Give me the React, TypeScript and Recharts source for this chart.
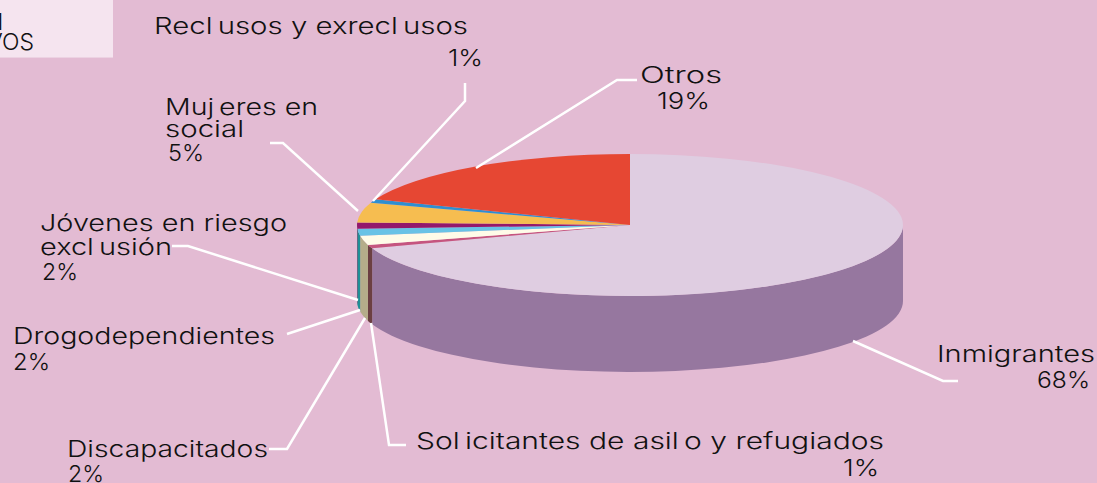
import { PieChart, Pie } from "recharts"

const categories = [
  "Inmigrantes",
  "Solicitantes de asilo y refugiados",
  "Discapacitados",
  "Drogodependientes",
  "Jóvenes en riesgo exclusión",
  "Mujeres en social",
  "Reclusos y exreclusos",
  "Otros",
]
// slice shares as drawn in the picture, the printed percentages are kept apart
const shares = [69.6, 0.8, 2.1, 1.6, 1.4, 4.5, 0.8, 19.1]
const percentLabels = ["68%", "1%", "2%", "2%", "2%", "5%", "1%", "19%"]
const topColors = ["#dfcde1", "#c5557f", "#fffbe8", "#69c2e6", "#93186c", "#f6bd50", "#2f8fd0", "#e64733"]
const wallColors = ["#96779f", "#6b3f42", "#b5ad8a", "#1f8f96", "#5e1046", "#a07a30", "#1e5c86", "#952d20"]

const data = categories.map((name, i) => ({
  name,
  value: shares[i],
  fill: topColors[i],
  wall: wallColors[i],
}))

const RX = 273
const RY = 71
const DEPTH = 76
const RAD = Math.PI / 180
const FONT = "Inter"

// [text, x, baseline, width]
type Line = [string, number, number, number]

const labelLayout: { lines: Line[]; leader: string }[] = [
  {
    lines: [["Inmigrantes", 937, 362, 158], [percentLabels[0], 1037, 388, 53]],
    leader: "853,341 943,381 958,381",
  },
  {
    lines: [["Solicitantes de asilo y refugiados", 416, 449, 468], [percentLabels[1], 843, 476, 36]],
    leader: "371,323 389,445 406,445",
  },
  {
    lines: [["Discapacitados", 67, 457, 201], [percentLabels[2], 68, 482, 36]],
    leader: "365,318 287,449 269,449",
  },
  {
    lines: [["Drogodependientes", 13, 344, 262], [percentLabels[3], 13, 370, 37]],
    leader: "360,310 287,334",
  },
  {
    lines: [["Jóvenes en riesgo", 40, 231, 247], ["exclusión", 40, 255, 132], [percentLabels[4], 42, 280, 36]],
    leader: "358,300 188,246 172,246",
  },
  {
    lines: [["Mujeres en", 165, 115, 153], ["social", 165, 137, 79], [percentLabels[5], 168, 161, 36]],
    leader: "358,211 283,143 270,143",
  },
  {
    lines: [["Reclusos y exreclusos", 154, 34, 314], [percentLabels[6], 448, 66, 35]],
    leader: "373,201 465,101 465,83",
  },
  {
    lines: [["Otros", 640, 83, 82], [percentLabels[7], 657, 109, 53]],
    leader: "476,168 617,80 637,80",
  },
]

function Slice3D(props: any) {
  const { cx, cy, startAngle, endAngle, fill, payload } = props
  const px = (a: number) => cx + RX * Math.cos(a * RAD)
  const py = (a: number) => cy - RY * Math.sin(a * RAD)
  const large = startAngle - endAngle > 180 ? 1 : 0
  const top = `M${cx},${cy}L${px(startAngle)},${py(startAngle)}A${RX},${RY} 0 ${large} 1 ${px(endAngle)},${py(endAngle)}Z`

  // only the front half of the rim shows a wall
  const a0 = Math.min(startAngle, 0)
  const a1 = Math.max(endAngle, -180)
  const wall =
    a0 > a1
      ? `M${px(a0)},${py(a0)}A${RX},${RY} 0 0 1 ${px(a1)},${py(a1)}L${px(a1)},${py(a1) + DEPTH}A${RX},${RY} 0 0 0 ${px(a0)},${py(a0) + DEPTH}Z`
      : null

  return (
    <g>
      {wall && <path d={wall} fill={payload.wall ?? props.wall} stroke="none" />}
      <path d={top} fill={fill} stroke="none" />
    </g>
  )
}

function renderLabel({ index }: any) {
  const { lines, leader } = labelLayout[index]
  return (
    <g key={index}>
      <polyline points={leader} fill="none" stroke="#ffffff" strokeWidth={2.5} />
      {lines.map(([text, x, y, width]) => (
        <text
          key={text}
          x={x}
          y={y}
          fill="#111111"
          stroke="none"
          fontFamily={FONT}
          fontWeight={300}
          fontSize={23}
          textAnchor="start"
          textLength={width}
          lengthAdjust="spacingAndGlyphs"
        >
          {/* the source leaves a small gap after l and j */}
          {text.split(/(?<=[lj])/).map((part, i) => (
            <tspan key={i} dx={i === 0 ? 0 : 4}>
              {part}
            </tspan>
          ))}
        </text>
      ))}
    </g>
  )
}

export default function App() {
  return (
    <div
      style={{
        position: "absolute",
        left: 0,
        top: 0,
        width: 1097,
        height: 483,
        overflow: "hidden",
        background: "#e3bbd3",
      }}
    >
      <PieChart width={1097} height={483} margin={{ top: 0, right: 0, bottom: 0, left: 0 }}>
        <Pie
          data={data}
          dataKey="value"
          nameKey="name"
          cx={630}
          cy={225}
          outerRadius={RX}
          startAngle={90}
          endAngle={-270}
          stroke="none"
          shape={Slice3D}
          label={renderLabel}
          labelLine={false}
          isAnimationActive={false}
        />
      </PieChart>
      <div
        style={{
          position: "absolute",
          left: 0,
          top: 0,
          width: 113,
          height: 57,
          background: "#f5e4ef",
          borderBottom: "1px solid #ecd2e2",
          fontFamily: FONT,
          fontWeight: 300,
          fontSize: 23,
          color: "#111111",
        }}
      >
        <span style={{ position: "absolute", left: -3, top: 8, lineHeight: "28px", fontWeight: 500 }}>l</span>
        <span style={{ position: "absolute", right: 79, top: 28, lineHeight: "28px" }}>VOS</span>
      </div>
    </div>
  )
}
